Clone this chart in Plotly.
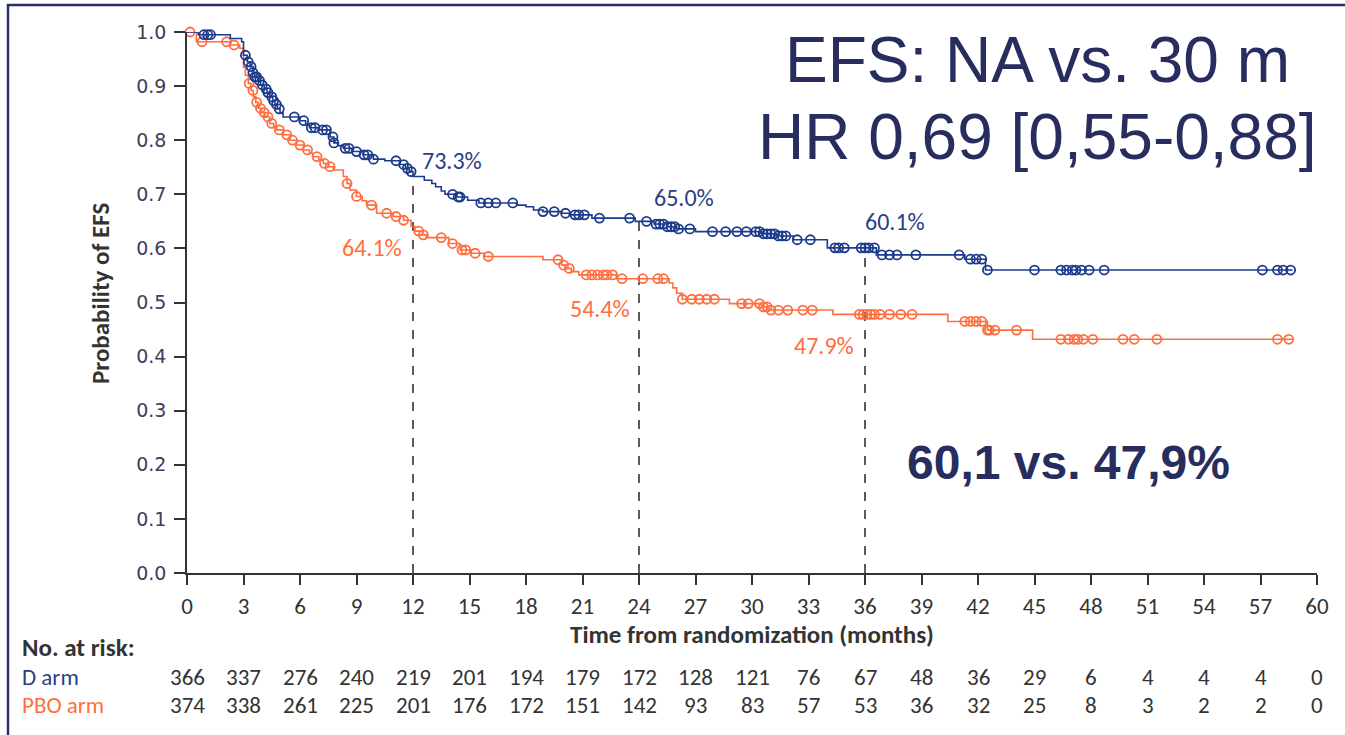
import numpy as np
import plotly.graph_objects as go

# ---------------- data ----------------
d_step_t = [0, 0.6, 2.3, 2.9, 3.0, 3.2, 3.35, 3.5, 3.6, 3.75, 3.9, 4.1, 4.25, 4.4, 4.55, 4.67, 4.8, 4.94,
            5.1, 6.0, 6.3, 6.5, 7.0, 7.6, 7.8, 8.0, 8.3, 8.75, 9.35, 9.9, 10.5, 11.3, 11.6, 11.8, 12.0,
            12.6, 13.0, 13.2, 13.5, 13.7, 14.3, 14.9, 15.5, 17.5, 18.0, 18.4, 18.9, 19.9, 20.3, 21.5,
            23.8, 24.8, 25.5, 26.0, 27.0, 30.5, 31.3, 32.2, 34.0, 36.6, 41.3, 42.4, 58.7]
d_step_s = [1.0, 0.995, 0.988, 0.982, 0.957, 0.945, 0.936, 0.925, 0.917, 0.91, 0.902, 0.895, 0.888, 0.88,
            0.873, 0.866, 0.858, 0.85, 0.843, 0.836, 0.828, 0.823, 0.819, 0.806, 0.795, 0.79, 0.785,
            0.779, 0.773, 0.765, 0.762, 0.755, 0.748, 0.742, 0.733, 0.726, 0.72, 0.714, 0.706, 0.70,
            0.695, 0.689, 0.684, 0.680, 0.677, 0.671, 0.668, 0.665, 0.662, 0.656, 0.650, 0.645, 0.64,
            0.636, 0.631, 0.627, 0.623, 0.616, 0.601, 0.588, 0.58, 0.56, 0.56]
d_censor_t = [0.9, 1.1, 1.25, 3.1, 3.25, 3.4, 3.5, 3.6, 3.7, 3.85, 4.0, 4.2, 4.3, 4.5, 4.6, 4.75, 4.9, 5.7,
              6.2, 6.6, 6.8, 7.2, 7.4, 7.75, 7.8, 8.4, 8.6, 9.0, 9.4, 9.6, 9.9, 11.1, 11.5, 11.7, 11.9,
              14.1, 14.4, 14.5, 15.6, 16.0, 16.4, 17.3, 18.9, 19.5, 20.1, 20.6, 20.8, 21.1, 21.9, 23.5,
              24.4, 24.9, 25.1, 25.3, 25.5, 25.7, 25.9, 26.1, 26.7, 27.9, 28.6, 29.2, 29.7, 30.2, 30.4,
              30.6, 30.8, 31.0, 31.2, 31.4, 31.6, 31.8, 32.4, 33.1, 34.4, 34.6, 34.9, 35.8, 36.0, 36.2,
              36.5, 36.9, 37.3, 37.7, 38.7, 41.0, 41.6, 41.9, 42.2, 42.5, 45.0, 46.4, 46.7, 47.0, 47.2,
              47.5, 47.9, 48.7, 57.1, 57.9, 58.2, 58.6]

p_step_t = [0, 0.5, 2.3, 2.8, 3.0, 3.1, 3.26, 3.4, 3.52, 3.65, 3.79, 3.95, 4.14, 4.4, 4.6, 4.76, 5.11,
            5.47, 5.82, 6.18, 6.5, 6.7, 7.0, 7.24, 7.5, 7.77, 8.3, 8.5, 8.65, 9.0, 9.3, 9.54, 10.07,
            10.95, 11.5, 11.9, 12.1, 12.5, 12.7, 13.9, 14.5, 15.1, 15.8, 18.9, 19.9, 20.1, 20.4, 20.8,
            22.8, 25.6, 25.8, 26.0, 26.3, 28.8, 30.5, 30.9, 34.3, 40.4, 42.5, 44.9, 58.7]
p_step_s = [1.0, 0.982, 0.976, 0.970, 0.935, 0.92, 0.905, 0.892, 0.88, 0.87, 0.859, 0.851, 0.843, 0.831,
            0.825, 0.819, 0.81, 0.80, 0.791, 0.782, 0.776, 0.7695, 0.763, 0.757, 0.751, 0.745, 0.733,
            0.72, 0.708, 0.696, 0.688, 0.68, 0.665, 0.659, 0.652, 0.641, 0.632, 0.625, 0.62, 0.609,
            0.597, 0.591, 0.585, 0.579, 0.569, 0.563, 0.557, 0.551, 0.544, 0.536, 0.527, 0.517, 0.506,
            0.498, 0.492, 0.486, 0.478, 0.465, 0.449, 0.432, 0.432]
p_censor_t = [0.16, 0.8, 2.1, 2.5, 3.3, 3.5, 3.7, 3.9, 4.1, 4.3, 4.5, 4.9, 5.3, 5.6, 6.0, 6.4, 6.9, 7.3,
              7.6, 8.5, 9.0, 9.8, 10.6, 11.1, 11.5, 12.3, 12.55, 13.5, 14.1, 14.6, 14.8, 15.3, 16.0,
              19.7, 20.0, 20.3, 21.2, 21.5, 21.8, 22.1, 22.3, 22.6, 23.1, 24.2, 25.0, 25.3, 26.3, 26.8,
              27.2, 27.6, 28.0, 29.45, 29.8, 30.4, 30.6, 30.8, 31.0, 31.4, 31.9, 32.7, 33.2, 35.7, 35.9,
              36.1, 36.3, 36.5, 36.8, 37.3, 37.9, 38.5, 41.3, 41.6, 41.9, 42.2, 42.5, 42.6, 42.9, 44.05,
              46.4, 46.8, 47.1, 47.3, 47.6, 48.1, 49.7, 50.3, 51.5, 57.9, 58.5]

landmark_t = [12, 24, 36]
d_landmark = [73.3, 65.0, 60.1]
p_landmark = [64.1, 54.4, 47.9]

risk_t = list(range(0, 61, 3))
d_risk = [366, 337, 276, 240, 219, 201, 194, 179, 172, 128, 121, 76, 67, 48, 36, 29, 6, 4, 4, 4, 0]
p_risk = [374, 338, 261, 225, 201, 176, 172, 151, 142, 93, 83, 57, 53, 36, 32, 25, 8, 3, 2, 2, 0]

y_ticks = [round(0.1 * i, 1) for i in range(11)]

BLUE = "#1d3b8c"
ORANGE = "#ff6e40"
NAVY_TXT = "#272d5f"
LBL_BLUE = "#2a3f86"
GREY = "#333333"
FONT = "Carlito, Lato, sans-serif"
SMALL = 23
TITLE = 25


def step_lookup(st, ss, t):
    idx = np.searchsorted(np.array(st), np.array(t), side="right") - 1
    return [ss[i] for i in idx]


fig = go.Figure()

# dashed landmark lines
for t, v in zip(landmark_t, d_landmark):
    fig.add_trace(go.Scatter(x=[t, t], y=[0, v / 100], mode="lines",
                             line=dict(color=GREY, width=1.6, dash="dash"),
                             hoverinfo="skip", showlegend=False))

for st, ss, ct, col, name in [(p_step_t, p_step_s, p_censor_t, ORANGE, "PBO arm"),
                              (d_step_t, d_step_s, d_censor_t, BLUE, "D arm")]:
    fig.add_trace(go.Scatter(x=st, y=ss, mode="lines", line=dict(color=col, width=1.6, shape="hv"),
                             name=name, showlegend=False, cliponaxis=False))
    fig.add_trace(go.Scatter(x=ct, y=step_lookup(st, ss, ct), mode="markers",
                             marker=dict(symbol="circle-open", size=9, color=col, line=dict(width=1.8, color=col)),
                             showlegend=False, cliponaxis=False))

W, H = 1345, 735
L, R, T, B = 187, 28, 32, 162


def px2paper(px, py):
    return (px - L) / (W - L - R), (H - B - py) / (H - T - B)


def label(px, py, text, size, color, family=FONT, xanchor="center", angle=0):
    x, y = px2paper(px, py)
    return dict(x=x, y=y, xref="paper", yref="paper", text=text, showarrow=False,
                xanchor=xanchor, yanchor="middle", textangle=angle,
                font=dict(family=family, size=size, color=color))


ann = []
# landmark labels
d_pos = [(452, 160), (684, 197), (895, 221)]
p_pos = [(372, 248), (600, 308), (824, 345)]
for v, (px, py) in zip(d_landmark, d_pos):
    ann.append(label(px, py, f"{v:.1f}%", 24, LBL_BLUE))
for v, (px, py) in zip(p_landmark, p_pos):
    ann.append(label(px, py, f"{v:.1f}%", 24, ORANGE))

# big text
ARIAL = "Liberation Sans, Arial, sans-serif"
ann.append(label(1037, 60, "EFS: NA vs. 30 m", 64, NAVY_TXT, ARIAL))
ann.append(label(1037, 137, "HR 0,69 [0,55-0,88]", 64, NAVY_TXT, ARIAL))
ann.append(label(1068, 462, "<b>60,1 vs. 47,9%</b>", 48, NAVY_TXT, ARIAL))

# axis titles
ann.append(label(752, 634, "<b>Time from randomization (months)</b>", TITLE, GREY))
ann.append(label(100, 294, "<b>Probability of EFS</b>", TITLE, GREY, angle=-90))

# at-risk table
ann.append(label(20, 647, "<b>No. at risk:</b>", TITLE, GREY, xanchor="left"))
for name, col, py, vals in [("D arm", LBL_BLUE, 677, d_risk), ("PBO arm", ORANGE, 705, p_risk)]:
    ann.append(label(20, py, name, SMALL, col, xanchor="left"))
    _, y = px2paper(0, py)
    for t, v in zip(risk_t, vals):
        ann.append(dict(x=t, y=y, xref="x", yref="paper", text=str(v), showarrow=False,
                        xanchor="center", yanchor="middle",
                        font=dict(family=FONT, size=SMALL, color=GREY)))

# frame (left + top)
x0, y0 = px2paper(8, 740)
x1, y1 = px2paper(8, 5)
x2, _ = px2paper(1350, 5)
shapes = [dict(type="path", xref="paper", yref="paper",
               path=f"M {x0} {y0} L {x1} {y1} L {x2} {y1}",
               line=dict(color="#2b2f6b", width=2.5))]

fig.update_layout(
    width=W, height=H, autosize=False,
    margin=dict(l=L, r=R, t=T, b=B),
    paper_bgcolor="white", plot_bgcolor="white",
    annotations=ann, shapes=shapes,
    xaxis=dict(range=[0, 60], tickvals=risk_t, ticks="outside", ticklen=10, tickwidth=1.5, tickcolor=GREY,
               showline=True, linecolor=GREY, linewidth=1.5, showgrid=False, zeroline=False,
               tickfont=dict(family=FONT, size=SMALL, color=GREY), ticklabelstandoff=2),
    yaxis=dict(range=[0, 1], tickvals=y_ticks, ticktext=[f"{v:.1f}" for v in y_ticks],
               ticks="outside", ticklen=11, tickwidth=1.5, tickcolor=GREY,
               showline=True, linecolor=GREY, linewidth=1.5, showgrid=False, zeroline=False,
               tickfont=dict(family="DejaVu Sans, Verdana", size=19, color="#3d3d5c"), ticklabelstandoff=4),
)

fig.write_html("out.html", config={"displayModeBar": False},
               post_script="document.body.style.margin='0';document.body.style.overflow='hidden';")
